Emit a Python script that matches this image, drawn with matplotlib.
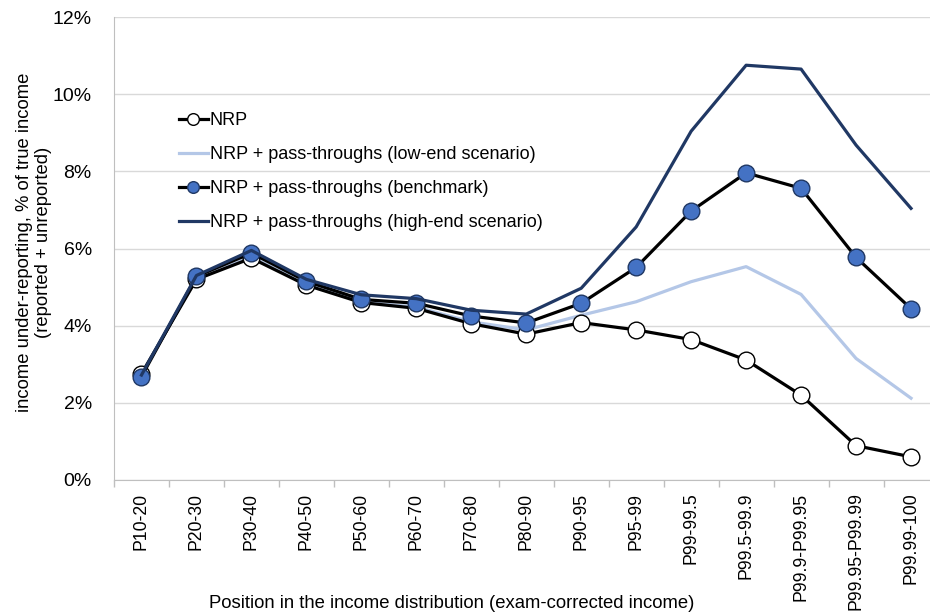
import matplotlib
matplotlib.use("Agg")
import matplotlib.pyplot as plt
import numpy as np

plt.rcParams['font.family'] = ['Liberation Sans', 'DejaVu Sans']

categories = ["P10-20", "P20-30", "P30-40", "P40-50", "P50-60", "P60-70", "P70-80",
              "P80-90", "P90-95", "P95-99", "P99-99.5", "P99.5-99.9", "P99.9-P99.95",
              "P99.95-P99.99", "P99.99-100"]
nrp = [2.75, 5.20, 5.75, 5.05, 4.60, 4.45, 4.05, 3.78, 4.08, 3.89, 3.64, 3.11, 2.20, 0.89, 0.60]
low_end = [2.75, 5.22, 5.78, 5.08, 4.62, 4.48, 4.10, 3.89, 4.27, 4.62, 5.14, 5.53, 4.81, 3.15, 2.12]
benchmark = [2.68, 5.28, 5.88, 5.15, 4.68, 4.58, 4.25, 4.07, 4.58, 5.51, 6.97, 7.96, 7.56, 5.77, 4.44]
high_end = [2.72, 5.30, 5.95, 5.20, 4.80, 4.70, 4.40, 4.30, 4.97, 6.56, 9.04, 10.75, 10.65, 8.68, 7.04]

fig = plt.figure(figsize=(9.3, 6.14), dpi=100)
left_px, right_px, top_px, bottom_px = 114, 938.5, 17, 480
ax = fig.add_axes([left_px / 930, 1 - bottom_px / 614, (right_px - left_px) / 930,
                   (bottom_px - top_px) / 614])

x = np.arange(len(categories))
ax.plot(x, nrp, color='black', lw=2.3, marker='o', ms=12, mfc='white', mec='black', mew=1.0,
        label='NRP', zorder=3)
ax.plot(x, low_end, color='#b4c7e7', lw=2.3, label='NRP + pass-throughs (low-end scenario)', zorder=2)
ax.plot(x, benchmark, color='black', lw=2.3, marker='o', ms=12, mfc='#4472c4', mec='#203864', mew=1.0,
        label='NRP + pass-throughs (benchmark)', zorder=4)
ax.plot(x, high_end, color='#203864', lw=2.3, label='NRP + pass-throughs (high-end scenario)', zorder=5)

ax.set_xlim(-0.5, len(categories) - 0.5)
ax.set_ylim(0, 12)
ax.set_yticks(np.arange(0, 13, 2))
ax.set_yticklabels([f"{v}%" for v in range(0, 13, 2)], fontsize=14)
ax.tick_params(axis='y', length=0, pad=16)
ax.set_xticks(x)
ax.set_xticklabels(categories, rotation=90, fontsize=12.7)
ax.tick_params(axis='x', length=0, pad=9)
ax.set_xticks(np.arange(-0.5, len(categories), 1), minor=True)
ax.tick_params(axis='x', which='minor', length=5, color='#bfbfbf', width=1)

ax.grid(axis='y', color='#d9d9d9', lw=1)
ax.set_axisbelow(True)
for s in ['top', 'right']:
    ax.spines[s].set_visible(False)
ax.spines['left'].set_color('#bfbfbf')
ax.spines['bottom'].set_color('#bfbfbf')

fig.text(34 / 930, 1 - 242 / 614, "income under-reporting, % of true income\n(reported + unreported)",
         fontsize=13.3, rotation=90, ha='center', va='center', multialignment='center')
fig.text(452 / 930, 1 - 603 / 614, "Position in the income distribution (exam-corrected income)",
         fontsize=13.3, ha='center', va='center')

leg = ax.legend(loc='upper left', bbox_to_anchor=(0.059, 0.83), frameon=False, fontsize=13,
                handlelength=1.6, handletextpad=0.1, labelspacing=0.95, markerscale=0.7)

fig.savefig("out.png", dpi=100)
